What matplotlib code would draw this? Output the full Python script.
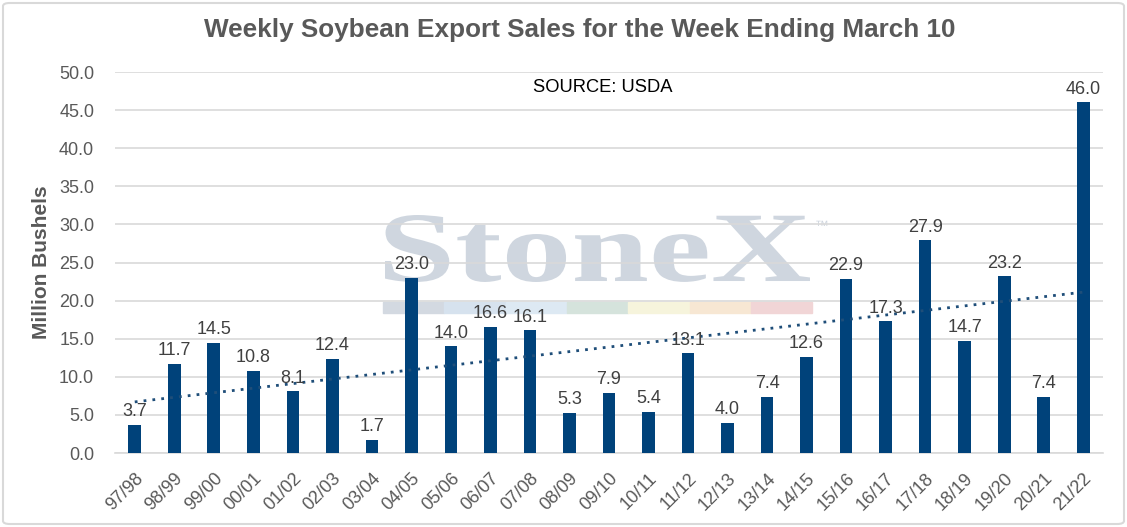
import matplotlib.pyplot as plt
import numpy as np
from matplotlib.patches import Rectangle, FancyBboxPatch, PathPatch
from matplotlib.textpath import TextPath
from matplotlib.font_manager import FontProperties
from matplotlib.transforms import Affine2D

plt.rcParams['font.family'] = ['Liberation Sans', 'DejaVu Sans']

years = ['97/98', '98/99', '99/00', '00/01', '01/02', '02/03', '03/04', '04/05',
         '05/06', '06/07', '07/08', '08/09', '09/10', '10/11', '11/12', '12/13',
         '13/14', '14/15', '15/16', '16/17', '17/18', '18/19', '19/20', '20/21', '21/22']
sales = [3.7, 11.7, 14.5, 10.8, 8.1, 12.4, 1.7, 23.0, 14.0, 16.6, 16.1, 5.3, 7.9,
         5.4, 13.1, 4.0, 7.4, 12.6, 22.9, 17.3, 27.9, 14.7, 23.2, 7.4, 46.0]
yticks = np.arange(0, 50.1, 5)

W, H = 1127, 527
fig = plt.figure(figsize=(W/100, H/100), dpi=100)
ax = fig.add_axes([115/W, 1-453/H, 988/W, 381/H])
ax.set_zorder(2)

bar_col = '#00427a'
x = np.arange(len(years))

# StoneX watermark (stretched to fit the box it takes in the original)
wm_col = '#cfd6df'
tp = TextPath((0, 0), 'StoneX', size=100,
              prop=FontProperties(family='Liberation Serif', weight='bold'))
ext = tp.get_extents()
x0, x1, y0, y1 = 385/W, 810/W, 1-282/H, 1-215/H
tr = (Affine2D().translate(-ext.x0, -ext.y0)
      .scale((x1-x0)/ext.width, (y1-y0)/ext.height)
      .translate(x0, y0) + fig.transFigure)
fig.patches.append(PathPatch(tp, transform=tr, facecolor=wm_col, edgecolor='none',
                             zorder=0))
fig.text(822/W, 1-226/H, '™', fontsize=10, color=wm_col, ha='center',
         va='center', zorder=0)
strip_cols = ['#d3d9e1', '#d6e2ee', '#dde9f3', '#d5e3dc', '#f6f4dc', '#f7e7d3', '#f1d5d6']
for i, c in enumerate(strip_cols):
    fig.patches.append(Rectangle(((383 + i*61.3)/W, 1-313/H), 61.3/W, 11/H,
                                 transform=fig.transFigure, color=c, zorder=0))

ax.set_facecolor('none')
ax.bar(x, sales, width=0.32, color=bar_col, zorder=3)
for xi, v in zip(x, sales):
    ax.text(xi, v + 0.6, f'{v:.1f}', ha='center', va='bottom', fontsize=13,
            color='#404040', zorder=5)

# linear trend line
coef = np.polyfit(x, sales, 1)
ax.plot(x, np.polyval(coef, x), linestyle=(0, (1, 2.2)), color='#1f4e79',
        linewidth=2, zorder=4)

ax.set_xlim(-0.5, len(years) - 0.5)
ax.set_ylim(0, 50)
ax.set_yticks(yticks)
ax.set_yticklabels([f'{t:.1f}' for t in yticks])
ax.set_xticks(x)
ax.set_xticklabels(years, rotation=45, ha='right', rotation_mode='anchor')
ax.tick_params(axis='both', length=0, labelsize=13, labelcolor='#595959')
ax.tick_params(axis='y', pad=15)
ax.tick_params(axis='x', pad=12)
ax.grid(axis='y', color='#d9d9d9', linewidth=1.2, zorder=0)
for s in ['top', 'right', 'left']:
    ax.spines[s].set_visible(False)
ax.spines['bottom'].set_color('#d9d9d9')
ax.spines['bottom'].set_linewidth(1.2)

ax.set_ylabel('Million Bushels', fontsize=15, fontweight='bold', color='#595959',
              labelpad=6)

fig.text(580/W, 1-30/H, 'Weekly Soybean Export Sales for the Week Ending March 10',
         fontsize=18.8, fontweight='bold', color='#595959', ha='center', va='center')
fig.text(603/W, 1-88/H, 'SOURCE: USDA', fontsize=13.2, color='black',
         ha='center', va='center', zorder=3)

fig.patches.append(FancyBboxPatch((3/W, 3/H), 1121/W, 521/H,
                                  boxstyle='round,pad=0,rounding_size=0.006',
                                  transform=fig.transFigure, fill=False,
                                  edgecolor='#d9d9d9', linewidth=1.5))

fig.savefig('out.png', dpi=100)
